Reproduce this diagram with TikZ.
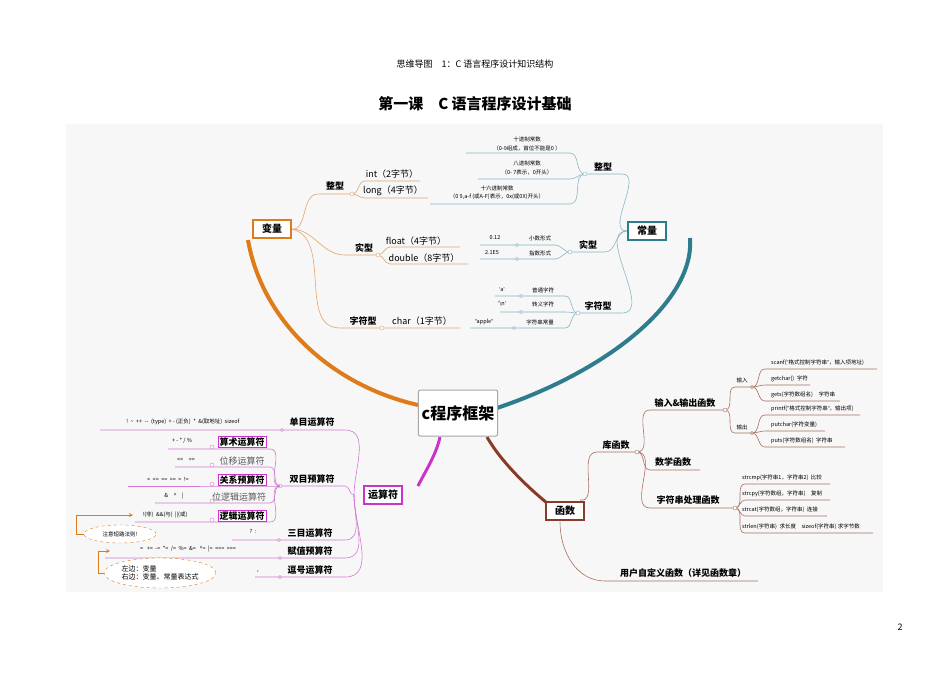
\documentclass[tikz,border=0pt]{standalone}
\usepackage{fontspec}
\usetikzlibrary{shapes.geometric}
\setmainfont[Ligatures=NoCommon]{Noto Sans CJK SC}
\newfontfamily\lat[Ligatures=NoCommon]{Liberation Sans}
\newcommand{\sq}{{\lat\symbol{39}}}
\newcommand{\dq}{{\lat\symbol{34}}}
\begin{document}
\begin{tikzpicture}[x=1pt,y=-1pt,
 t/.style={inner sep=0pt,font=\fontsize{9}{10}\selectfont},
 s/.style={inner sep=0pt,font=\fontsize{5.5}{6.5}\selectfont},
 bx/.style={draw,fill=white,line width=1.2pt,font=\bfseries\fontsize{10}{12}\selectfont,inner sep=3pt,minimum width=38pt,minimum height=18pt},
 sb/.style={draw=mg,fill=white,line width=0.9pt,font=\bfseries\fontsize{9}{10}\selectfont,inner sep=1.5pt},
 fk/.style={circle,draw,fill=white,inner sep=0pt,minimum size=4pt},
 ob/.style={draw=orl,line width=0.6pt},
 tb/.style={draw=tll,line width=0.6pt},
 mb/.style={draw=mgl,line width=0.6pt},
 rb/.style={draw=rdl,line width=0.6pt}]
\definecolor{orng}{HTML}{E07B1A}\definecolor{orl}{HTML}{E2A570}
\definecolor{tl}{HTML}{2E7D8C}\definecolor{tll}{HTML}{88B8C4}
\definecolor{mg}{HTML}{CC33CC}\definecolor{mgl}{HTML}{D47AD4}
\definecolor{rd}{HTML}{8B3A2A}\definecolor{rdl}{HTML}{A87060}
\useasboundingbox (0,0) rectangle (950,672);
\fill[white] (0,0) rectangle (950,672);
\fill[gray!6] (66,124) rectangle (883,592);
\node[inner sep=0pt,font=\fontsize{9}{10}\selectfont] (hdr) at (475,64) {思维导图\quad 1：C 语言程序设计知识结构};
\node[inner sep=0pt,font=\bfseries\fontsize{15}{17}\selectfont] (ttl) at (475,104) {第一课\quad C 语言程序设计基础};
\node[inner sep=0pt,font=\fontsize{9}{10}\selectfont] (pg) at (900,627) {2};
% big curves
\draw[orng,line width=4pt] (418,405) .. controls (330,385) and (262,320) .. (248,240);
\draw[tl,line width=4pt] (497,408) .. controls (610,370) and (695,300) .. (690,238);
\draw[mg,line width=3pt] (440,437) .. controls (436,455) and (426,470) .. (418,486);
\draw[rd,line width=3pt] (487,437) .. controls (500,460) and (525,485) .. (547,503);
% ===== variables
\draw[ob] (291,229) to[out=-10,in=180] (318,194) -- (352,194);
\draw[ob] (352,194) to[out=0,in=180] (365,181) -- (420,181);
\draw[ob] (352,194) to[out=0,in=180] (365,198) -- (428,198);
\node[fk,draw=orl] at (352,194) {};
\node[t,font=\bfseries\fontsize{9}{10}\selectfont] (zx) at (335,186) {整型};
\node[t] (vint) at (392,174) {int（2字节）};
\node[t] (vlong) at (393,191) {long（4字节）};
\draw[ob] (291,229) to[out=0,in=180] (345,255) -- (378,255);
\draw[ob] (378,255) to[out=0,in=180] (390,247) -- (460,247);
\draw[ob] (378,255) to[out=0,in=180] (390,264) -- (468,264);
\node[fk,draw=orl] at (378,255) {};
\node[t,font=\bfseries\fontsize{9}{10}\selectfont] (sx) at (364,248) {实型};
\node[t] (vf) at (416,241) {float（4字节）};
\node[t] (vd) at (424,258) {double（8字节）};
\draw[ob] (291,229) to[out=-10,in=180] (340,328) -- (460,328);
\node[fk,draw=orl] at (382,328) {};
\node[t,font=\bfseries\fontsize{9}{10}\selectfont] (cx) at (363,321) {字符型};
\node[t] (vc) at (422,321) {char（1字节）};
\node[bx,draw=orng] (bl) at (272,229) {变量};
% ===== constants
\draw[tb] (627,231) to[out=180,in=0] (622,174) -- (585,174);
\draw[tb] (585,174) to[out=180,in=0] (570,153) -- (466,153);
\draw[tb] (585,174) to[out=180,in=0] (570,179) -- (478,179);
\draw[tb] (585,174) to[out=180,in=0] (570,204) -- (430,204);
\node[fk,draw=tll] at (585,174) {};
\node[t,font=\bfseries\fontsize{9}{10}\selectfont] (cz) at (603,167) {整型};
\node[s] at (527,139) {十进制常数};
\node[s] at (527,148) {（0-9组成，首位不能是0 ）};
\node[s] at (527,163) {八进制常数};
\node[s] at (527,172) {（0- 7表示，0开头）};
\node[s] at (497,188) {十六进制常数};
\node[s] at (497,197) {（0~9,a-f (或A-F)表示，0x(或0X)开头）};
\draw[tb] (627,231) to[out=180,in=0] (605,252) -- (570,252);
\draw[tb] (570,252) to[out=180,in=0] (555,245) -- (480,245);
\draw[tb] (570,252) to[out=180,in=0] (555,259) -- (480,259);
\node[fk,draw=tll] at (570,252) {};
\node[fk,draw=tll,minimum size=3pt] at (517,245) {};
\node[fk,draw=tll,minimum size=3pt] at (517,259) {};
\node[t,font=\bfseries\fontsize{9}{10}\selectfont] (cs) at (588,245) {实型};
\node[s] at (495,238) {0.12};
\node[s] at (540,238) {小数形式};
\node[s] at (492,253) {2.1E5};
\node[s] at (540,253) {指数形式};
\draw[tb] (627,231) to[out=180,in=0] (622,313) -- (578,313);
\draw[tb] (578,313) to[out=180,in=0] (565,296) -- (495,296);
\draw[tb] (578,313) to[out=180,in=0] (565,312) -- (500,312);
\draw[tb] (578,313) to[out=180,in=0] (565,328) -- (470,328);
\node[fk,draw=tll] at (578,313) {};
\node[fk,draw=tll,minimum size=3pt] at (521,296) {};
\node[fk,draw=tll,minimum size=3pt] at (521,312) {};
\node[fk,draw=tll,minimum size=3pt] at (514,328) {};
\node[t,font=\bfseries\fontsize{9}{10}\selectfont] (cc) at (598,306) {字符型};
\node[s] at (502,290) {\sq a\sq};
\node[s] at (543,290) {普通字符};
\node[s] at (502,304) {\sq\textbackslash n\sq};
\node[s] at (543,304) {转义字符};
\node[s] at (484,322) {\dq apple\dq};
\node[s] at (540,322) {字符串常量};
\node[bx,draw=tl] (cl) at (647,231) {常量};
% ===== functions
\draw[rb] (580,500) to[out=-10,in=180] (597,452) -- (637,452);
\draw[rb] (637,452) to[out=0,in=180] (650,410) -- (725,410);
\draw[rb] (637,452) to[out=0,in=180] (650,470) -- (700,470);
\draw[rb] (637,452) to[out=0,in=180] (650,508) -- (735,508);
\node[fk,draw=rdl] at (637,452) {};
\node[t,font=\bfseries\fontsize{9}{10}\selectfont] (kf) at (616,445) {库函数};
\node[t,font=\bfseries\fontsize{9}{10}\selectfont] (io) at (685,403) {输入\&输出函数};
\node[t,font=\bfseries\fontsize{9}{10}\selectfont] (sx2) at (673,462) {数学函数};
\node[t,font=\bfseries\fontsize{9}{10}\selectfont] (zf) at (688,500) {字符串处理函数};
\draw[rb] (725,410) to[out=0,in=180] (735,387) -- (752,387);
\draw[rb] (725,410) to[out=0,in=180] (735,433) -- (752,433);
\node[fk,draw=rdl] at (725,410) {};
\node[s] at (742,380) {输入};
\node[s] at (742,427) {输出};
\draw[rb] (752,387) to[out=0,in=180] (765,369) -- (877,369);
\draw[rb] (752,387) to[out=0,in=180] (765,385) -- (810,385);
\draw[rb] (752,387) to[out=0,in=180] (765,401) -- (840,401);
\node[fk,draw=rdl,minimum size=3pt] at (752,387) {};
\draw[rb] (752,433) to[out=0,in=180] (765,415) -- (860,415);
\draw[rb] (752,433) to[out=0,in=180] (765,431) -- (825,431);
\draw[rb] (752,433) to[out=0,in=180] (765,447) -- (845,447);
\node[fk,draw=rdl,minimum size=3pt] at (752,433) {};
\node[s,anchor=west] at (771,363) {scanf(\dq 格式控制字符串\dq，输入项地址)};
\node[s,anchor=west] at (771,379) {getchar()\ \ 字符};
\node[s,anchor=west] at (771,395) {gets(字符数组名)\quad 字符串};
\node[s,anchor=west] at (771,409) {printf(\dq 格式控制字符串\dq，输出项)};
\node[s,anchor=west] at (771,425) {putchar(字符变量)};
\node[s,anchor=west] at (771,441) {puts(字符数组名)\ \ 字符串};
\draw[rb] (735,508) to[out=0,in=180] (745,484) -- (830,484);
\draw[rb] (735,508) to[out=0,in=180] (745,500) -- (830,500);
\draw[rb] (735,508) to[out=0,in=180] (745,516) -- (827,516);
\draw[rb] (735,508) to[out=0,in=180] (745,533) -- (873,533);
\node[fk,draw=rdl] at (735,508) {};
\node[s,anchor=west] at (742,478) {strcmp(字符串1，字符串2)\ \ 比较};
\node[s,anchor=west] at (742,494) {strcpy(字符数组，字符串)\quad 复制};
\node[s,anchor=west] at (742,510) {strcat(字符数组，字符串)\ \ 连接};
\node[s,anchor=west] at (742,527) {strlen(字符串)\ \ 求长度\quad sizeof(字符串) 求字节数};
\draw[rb] (560,522) to[out=-90,in=180] (605,581) -- (758,581);
\node[t,font=\bfseries\fontsize{9}{10}\selectfont] (uf) at (683,573) {用户自定义函数（详见函数章）};
\node[bx,draw=rd] (fn) at (565,511) {函数};
% ===== operators
\draw[mb] (354,495) to[out=90,in=0] (345,430) -- (100,430);
\node[fk,draw=mgl,minimum size=3pt] at (282,430) {};
\node[t,font=\bfseries\fontsize{9}{10}\selectfont] (dm) at (312,422) {单目运算符};
\node[s] at (183,422) {!\ \ \textasciitilde\ \ ++\ \ -{}-\ \ (type)\ \ + - (正负)\ \ *\ \ \&(取地址)\ \ sizeof};
\draw[mb] (354,495) to[out=180,in=0] (345,486) -- (280,486);
\node[fk,draw=mgl] at (280,486) {};
\node[t,font=\bfseries\fontsize{9}{10}\selectfont] (sm) at (312,479) {双目预算符};
\foreach \yy/\xl in {449/168,467/175,486/128,503/155,522/135}{
 \draw[mb] (280,486) to[out=180,in=0] (270,\yy) -- (\xl,\yy);
 \node[fk,draw=mgl,minimum size=4pt] at (212,\yy-2) {};
}
\node[sb] (ss) at (242,442) {算术运算符};
\node[t,text=gray!70!black] (wy) at (242,461) {位移运算符};
\node[sb] (gx) at (242,480) {关系预算符};
\node[t,text=gray!70!black] (wl) at (239,497) {位逻辑运算符};
\node[sb] (lj) at (242,516) {逻辑运算符};
\node[s] at (182,441) {+ - * / \%};
\node[s] at (186,460) {<{}<\quad >{}>};
\node[s] at (168,479) {<\ \ <{}=\ \ ={}=\ \ >{}=\ \ >\ \ !{}=};
\node[s] at (174,496) {\&\quad \^{}\quad |};
\node[s] at (165,515) {!(非)\ \ \&\&(与)\ \ |{}|(或)};
\draw[mb] (354,495) to[out=-90,in=0] (345,540) -- (232,540);
\node[fk,draw=mgl,minimum size=3pt] at (279,540) {};
\node[t,font=\bfseries\fontsize{9}{10}\selectfont] (sanm) at (310,533) {三目运算符};
\node[s] at (253,531) {?\ \ :};
\draw[mb] (354,495) to[out=-90,in=0] (345,558) -- (105,558);
\node[fk,draw=mgl,minimum size=3pt] at (280,558) {};
\node[t,font=\bfseries\fontsize{9}{10}\selectfont] (fz) at (310,551) {赋值预算符};
\node[s] at (188,549) {=\ \ \ +{}=\ \ -{}=\ \ *{}=\ \ /{}=\ \ \%=\ \ \&=\ \ \ \^{}=\ \ |{}=\ \ <{}<{}=\ \ >{}>{}=};
\draw[mb] (354,495) to[out=-90,in=0] (345,577) -- (255,577);
\node[fk,draw=mgl,minimum size=3pt] at (280,577) {};
\node[t,font=\bfseries\fontsize{9}{10}\selectfont] (dh) at (310,570) {逗号运算符};
\node[s] at (258,572) {,};
\node[bx,draw=mg] (ys) at (383,495) {运算符};
% ellipses
\node[ellipse,draw=orng,dashed,fill=white,s,minimum width=72pt,minimum height=18pt,inner sep=0pt] (e1) at (120,534) {注意短路法则!};
\draw[orng,line width=0.8pt,-stealth] (e1.west) -- (76,534) -- (76,515) -- (133,515);
\node[ellipse,draw=orng,dashed,fill=white,minimum width=112pt,minimum height=30pt,inner sep=0pt,font=\fontsize{7}{8}\selectfont,align=left] (e2) at (160,573) {左边：变量\\右边：变量、常量表达式};
\draw[orng,line width=0.8pt,-stealth] (e2.west) -- (98,573) -- (98,551) -- (110,551);
% center
\node[draw=gray!70,fill=white,line width=1pt,rounded corners=2pt,minimum width=78pt,minimum height=46pt,font=\bfseries\fontsize{16}{18}\selectfont] (ctr) at (458,413) {c程序框架};
\end{tikzpicture}
\end{document}
